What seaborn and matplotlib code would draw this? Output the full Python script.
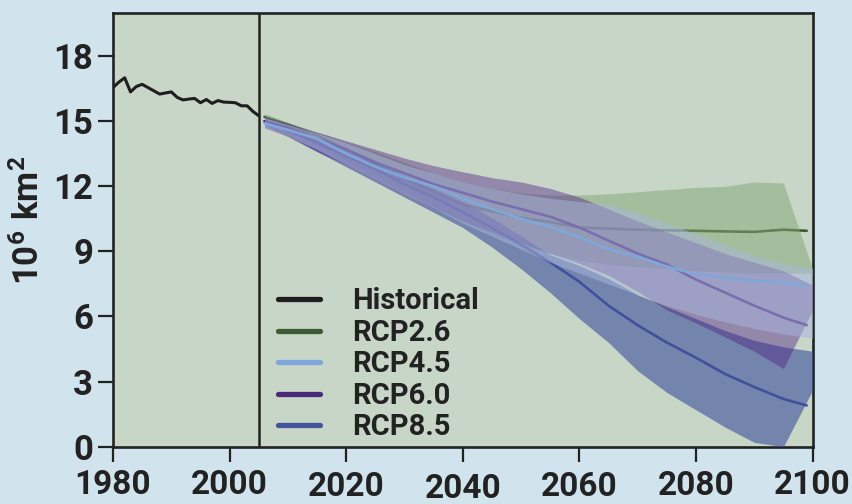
import matplotlib
matplotlib.use("Agg")
import matplotlib.pyplot as plt
import seaborn as sns
import pandas as pd
from matplotlib.lines import Line2D
from matplotlib.transforms import ScaledTranslation

# ---------------- data ----------------
HIST_YEARS = list(range(1980, 2006))
HIST = [16.55, 16.8, 17.0, 16.35, 16.6, 16.7, 16.55, 16.4, 16.25, 16.3,
        16.35, 16.1, 15.98, 16.02, 16.05, 15.85, 16.0, 15.82, 15.95, 15.88,
        15.87, 15.85, 15.71, 15.71, 15.45, 15.25]

MEAN_YEARS = [2006, 2010, 2015, 2020, 2025, 2030, 2035, 2040, 2045, 2050,
              2055, 2060, 2065, 2070, 2075, 2080, 2085, 2090, 2095, 2099]
RCP26_MEAN = [15.2, 14.85, 14.35, 13.7, 13.0, 12.35, 11.75, 11.15, 10.85, 10.55,
              10.35, 10.1, 10.05, 10.0, 9.97, 9.95, 9.92, 9.9, 10.0, 9.95]
RCP45_MEAN = [14.9, 14.6, 14.2, 13.5, 12.9, 12.4, 12.0, 11.45, 10.95, 10.5,
              10.15, 9.65, 9.1, 8.75, 8.3, 7.95, 7.8, 7.65, 7.55, 7.45]
RCP60_MEAN = [15.0, 14.7, 14.2, 13.7, 13.1, 12.6, 12.1, 11.7, 11.3, 10.95,
              10.6, 10.1, 9.5, 8.9, 8.4, 7.7, 7.1, 6.5, 5.95, 5.6]
RCP85_MEAN = [15.0, 14.6, 14.0, 13.4, 12.8, 12.1, 11.5, 10.8, 10.1, 9.3,
              8.5, 7.6, 6.5, 5.6, 4.8, 4.1, 3.35, 2.75, 2.2, 1.9]

BAND_YEARS = [2006, 2010, 2015, 2020, 2025, 2030, 2035, 2040, 2045, 2050,
              2055, 2060, 2065, 2070, 2075, 2080, 2085, 2090, 2095, 2100]
RCP26_LO = [14.95, 14.5, 13.9, 13.2, 12.5, 11.8, 11.1, 10.4, 9.8, 9.3,
            8.9, 8.6, 8.4, 8.3, 8.2, 8.1, 8.05, 8.0, 8.0, 8.0]
RCP26_HI = [15.35, 14.95, 14.5, 14.05, 13.6, 13.1, 12.6, 12.2, 11.9, 11.7,
            11.6, 11.6, 11.65, 11.75, 11.85, 11.95, 12.0, 12.2, 12.15, 8.2]
RCP45_LO = [14.75, 14.3, 13.7, 13.0, 12.3, 11.6, 11.0, 10.3, 9.7, 9.1,
            8.5, 8.0, 7.5, 7.0, 6.5, 6.1, 5.75, 5.45, 5.2, 5.0]
RCP45_HI = [15.15, 14.85, 14.45, 14.0, 13.5, 13.0, 12.6, 12.2, 11.9, 11.65,
            11.45, 11.3, 11.15, 10.8, 10.3, 9.8, 9.3, 8.8, 8.45, 8.2]
RCP60_LO = [14.7, 14.3, 13.6, 13.0, 12.3, 11.6, 11.0, 10.4, 9.9, 9.4,
            8.9, 8.45, 7.9, 7.15, 6.3, 5.7, 5.05, 4.4, 3.6, 6.3]
RCP60_HI = [15.2, 14.9, 14.5, 14.1, 13.7, 13.3, 12.95, 12.67, 12.4, 12.2,
            11.9, 11.5, 10.95, 10.4, 9.9, 9.4, 8.9, 8.5, 8.1, 7.45]
RCP85_LO = [14.8, 14.3, 13.6, 12.9, 12.2, 11.5, 10.8, 10.1, 9.2, 8.2,
            7.1, 5.9, 4.8, 3.5, 2.5, 1.7, 0.9, 0.2, 0.0, 2.6]
RCP85_HI = [15.1, 14.75, 14.25, 13.7, 13.1, 12.5, 11.9, 11.3, 10.55, 9.7,
            8.85, 8.35, 7.75, 7.0, 6.45, 5.9, 5.35, 4.9, 4.6, 4.4]

LEGEND_LABELS = ["Historical", "RCP2.6", "RCP4.5", "RCP6.0", "RCP8.5"]
X_TICKS = [1980, 2000, 2020, 2040, 2060, 2080, 2100]
Y_TICKS = [0, 3, 6, 9, 12, 15, 18]
Y_LABEL = r"$\mathbf{10^6\ km^2}$"

# ---------------- style ----------------
FIG_BG = "#d1e4ee"
AX_BG = "#c8d6c8"
DARK = "#222222"
LINE_COLORS = {"Historical": "#1e1e1e", "RCP2.6": "#3e5b34", "RCP4.5": "#7ea8d9",
               "RCP6.0": "#4a2a7a", "RCP8.5": "#44549a"}
BAND_COLORS = {"RCP2.6": ("#82a874", 0.5), "RCP4.5": ("#a8b6dc", 0.52),
               "RCP6.0": ("#4c1e82", 0.42), "RCP8.5": ("#3d4f9b", 0.6)}

sns.set_theme(style="white")
plt.rcParams["font.family"] = ["Roboto", "DejaVu Sans"]
plt.rcParams["font.weight"] = "bold"
plt.rcParams["mathtext.fontset"] = "custom"
plt.rcParams["mathtext.rm"] = "Roboto:bold"
plt.rcParams["mathtext.it"] = "Roboto:bold"
plt.rcParams["mathtext.bf"] = "Roboto:bold"

fig = plt.figure(figsize=(8.53, 5.04), dpi=100, facecolor=FIG_BG)
ax = fig.add_axes([0.1325, 0.1137, 0.8201, 0.8611])
ax.set_facecolor(AX_BG)

series = [
    ("RCP2.6", RCP26_MEAN, RCP26_LO, RCP26_HI),
    ("RCP8.5", RCP85_MEAN, RCP85_LO, RCP85_HI),
    ("RCP6.0", RCP60_MEAN, RCP60_LO, RCP60_HI),
    ("RCP4.5", RCP45_MEAN, RCP45_LO, RCP45_HI),
]
z = 2
for name, mean, lo, hi in series:
    df = pd.DataFrame({"year": MEAN_YEARS, "extent": mean})
    line_z = z + 2 if name == "RCP4.5" else z
    sns.lineplot(data=df, x="year", y="extent", color=LINE_COLORS[name],
                 lw=1.9, ax=ax, zorder=line_z)
    col, a = BAND_COLORS[name]
    ax.fill_between(BAND_YEARS, lo, hi, color=col, alpha=a, lw=0, zorder=z + 1)
    z += 2

hist_df = pd.DataFrame({"year": HIST_YEARS, "extent": HIST})
sns.lineplot(data=hist_df, x="year", y="extent", color=LINE_COLORS["Historical"],
             lw=2.2, ax=ax, zorder=20)

ax.axvline(2005, color=DARK, lw=1.8, zorder=21)

ax.set_xlim(1980, 2100)
ax.set_ylim(0, 20)
ax.set_xticks(X_TICKS)
ax.set_yticks(Y_TICKS)
ax.set_xlabel("")
ax.set_ylabel(Y_LABEL, fontsize=25, color=DARK)
ax.yaxis.set_label_coords(-0.096, 0.522)

ax.tick_params(axis="both", which="both", bottom=True, left=True, direction="out",
               length=10.8, width=1.6, color=DARK, labelsize=24, labelcolor=DARK)
ax.tick_params(axis="x", pad=5.5)
ax.tick_params(axis="y", pad=3.5, labelsize=25)
for lab in ax.get_xticklabels() + ax.get_yticklabels():
    lab.set_fontweight("bold")

# slight vertical jitter of the year labels, as in the original
offsets_px = [0, 0, 2, 4, 2, 1, 0]
for lab, dy in zip(ax.get_xticklabels(), offsets_px):
    lab.set_transform(lab.get_transform() + ScaledTranslation(0, -dy / 100, fig.dpi_scale_trans))

for sp in ax.spines.values():
    sp.set_visible(True)
    sp.set_color(DARK)
    sp.set_linewidth(1.9)

handles = [Line2D([0], [0], color=LINE_COLORS[n], lw=3.8) for n in LEGEND_LABELS]
leg = ax.legend(handles, LEGEND_LABELS, loc="upper left", bbox_to_anchor=(0.2358, 0.367),
                frameon=False, fontsize=21, handlelength=1.43, handletextpad=1.1,
                labelspacing=0.12, borderpad=0, borderaxespad=0)
for t in leg.get_texts():
    t.set_fontweight("bold")
    t.set_color(DARK)

fig.savefig("out.png", dpi=100, facecolor=FIG_BG)
